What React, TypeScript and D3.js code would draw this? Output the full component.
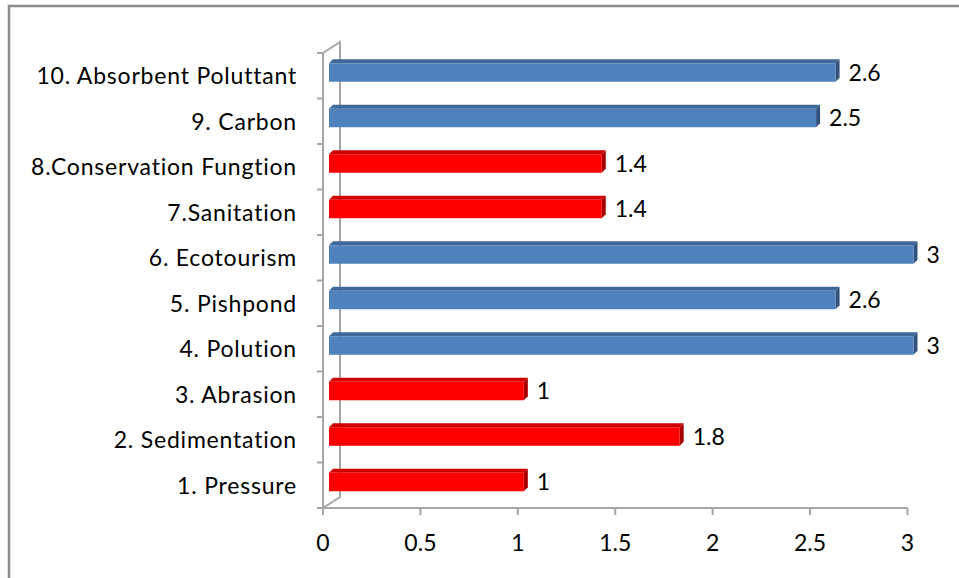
import React from "react";
import * as d3 from "d3";

const categories = [
  "1. Pressure",
  "2. Sedimentation",
  "3. Abrasion",
  "4. Polution",
  "5. Pishpond",
  "6. Ecotourism",
  "7.Sanitation",
  "8.Conservation Fungtion",
  "9. Carbon",
  "10. Absorbent Poluttant",
];
const values = [1, 1.8, 1, 3, 2.6, 3, 1.4, 1.4, 2.5, 2.6];
const groups = ["red", "red", "red", "blue", "blue", "blue", "red", "red", "blue", "blue"];
const xTicks = [0, 0.5, 1, 1.5, 2, 2.5, 3];

const palette: Record<string, { front: string; top: string; side: string }> = {
  blue: { front: "#4F81BD", top: "#3D6899", side: "#30527C" },
  red: { front: "#FF0000", top: "#D00000", side: "#A80000" },
};

const FONT = "Lato, 'Open Sans', 'Liberation Sans', sans-serif";
const FS = 23;

export default function App() {
  const W = 959;
  const H = 578;
  const x = d3.scaleLinear().domain([0, 3]).range([323, 907.5]);
  const y = d3
    .scaleBand<string>()
    .domain([...categories].reverse())
    .range([53, 508])
    .padding(0);
  const bw = y.bandwidth();
  const dx = 6; // bar depth offset from front axis
  const d = 4; // 3D depth of bar faces
  const barH = 18.5;
  const axisColor = "#a6a6a6";

  const boundaries = d3.range(categories.length + 1).map((i) => 53 + i * bw);

  return (
    <svg width={W} height={H} style={{ display: "block", position: "absolute", left: 0, top: 0 }}>
      <rect x={0} y={0} width={W} height={H} fill="#fff" />
      {/* outer frame */}
      <rect x={9} y={6} width={W + 10} height={H + 10} fill="none" stroke="#8c8c8c" strokeWidth={2.5} />

      {/* back wall lines */}
      <path
        d={`M${x(0)},53 L${x(0) + 17},42 L${x(0) + 17},497 L${x(0)},508`}
        fill="none"
        stroke={axisColor}
        strokeWidth={2}
      />
      {/* front category axis */}
      <line x1={x(0)} x2={x(0)} y1={53} y2={508} stroke={axisColor} strokeWidth={2} />
      {boundaries.map((b, i) => (
        <line key={"ct" + i} x1={x(0) - 6} x2={x(0)} y1={b} y2={b} stroke={axisColor} strokeWidth={2} />
      ))}
      {/* value axis */}
      <line x1={x(0)} x2={x(3)} y1={508} y2={508} stroke={axisColor} strokeWidth={2} />
      {xTicks.map((t) => (
        <line key={"xt" + t} x1={x(t)} x2={x(t)} y1={508} y2={515} stroke={axisColor} strokeWidth={2} />
      ))}
      {xTicks.map((t) => (
        <text
          key={"xl" + t}
          x={x(t)}
          y={545}
          textAnchor="middle"
          dominantBaseline="middle"
          fontFamily={FONT}
          fontSize={FS}
          fill="#000"
        >
          {String(t)}
        </text>
      ))}

      {/* bars */}
      {categories.map((c, i) => {
        const v = values[i];
        const col = palette[groups[i]];
        const bc = (y(c) as number) + bw / 2;
        const top = bc - 12.5;
        const bottom = top + barH;
        const x0 = x(0) + dx;
        const x1 = x(v) + dx;
        return (
          <g key={c}>
            <polygon
              points={`${x0},${top} ${x0 + d},${top - d} ${x1 + d},${top - d} ${x1},${top}`}
              fill={col.top}
            />
            <polygon
              points={`${x1},${top} ${x1 + d},${top - d} ${x1 + d},${bottom - d} ${x1},${bottom}`}
              fill={col.side}
            />
            <rect x={x0} y={top} width={x1 - x0} height={barH} fill={col.front} />
            <text
              x={x1 + 13}
              y={bc - 1}
              dominantBaseline="middle"
              fontFamily={FONT}
              fontSize={FS}
              fill="#000"
            >
              {String(v)}
            </text>
            <text
              x={297}
              y={bc + 2.5}
              textAnchor="end"
              dominantBaseline="middle"
              fontFamily={FONT}
              fontSize={FS}
              letterSpacing={0.8}
              fill="#000"
            >
              {c}
            </text>
          </g>
        );
      })}
    </svg>
  );
}
